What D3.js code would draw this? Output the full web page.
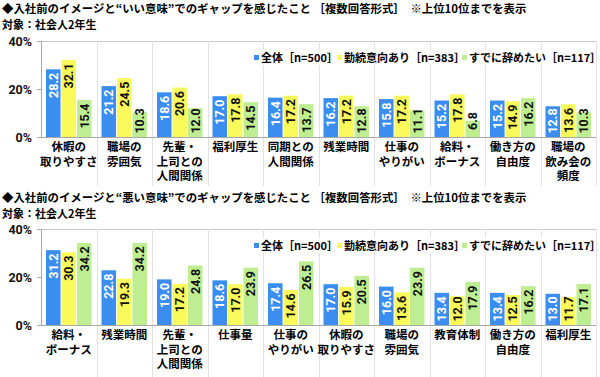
<!DOCTYPE html>
<html>
<head>
<meta charset="utf-8">
<script src="https://cdn.jsdelivr.net/npm/d3@7"></script>
<style>
  body { margin: 0; background: #fff; }
  svg { font-family: "Noto Sans CJK JP", "Noto Sans", sans-serif; }
  text { font-weight: bold; }
</style>
</head>
<body>
<svg id="chart" width="600" height="377"></svg>
<script>
const seriesNames = ["全体［n=500］", "勤続意向あり［n=383］", "すでに辞めたい［n=117］"];
const colors = ["#3b8ef0", "#fafa5c", "#bfee92"];
const yTicks = [0, 20, 40];

const title1 = "◆入社前のイメージと“いい意味”でのギャップを感じたこと ［複数回答形式］　※上位10位までを表示";
const cats1 = ["休暇の\n取りやすさ", "職場の\n雰囲気", "先輩・\n上司との\n人間関係", "福利厚生", "同期との\n人間関係",
  "残業時間", "仕事の\nやりがい", "給料・\nボーナス", "働き方の\n自由度", "職場の\n飲み会の\n頻度"];
const all1 = [28.2, 21.2, 18.6, 17.0, 16.4, 16.2, 15.8, 15.2, 15.2, 12.8];
const stay1 = [32.1, 24.5, 20.6, 17.8, 17.2, 17.2, 17.2, 17.8, 14.9, 13.6];
const quit1 = [15.4, 10.3, 12.0, 14.5, 13.7, 12.8, 11.1, 6.8, 16.2, 10.3];

const title2 = "◆入社前のイメージと“悪い意味”でのギャップを感じたこと ［複数回答形式］　※上位10位までを表示";
const cats2 = ["給料・\nボーナス", "残業時間", "先輩・\n上司との\n人間関係", "仕事量", "仕事の\nやりがい",
  "休暇の\n取りやすさ", "職場の\n雰囲気", "教育体制", "働き方の\n自由度", "福利厚生"];
const all2 = [31.2, 22.8, 19.0, 18.6, 17.4, 17.0, 16.0, 13.4, 13.4, 13.0];
const stay2 = [30.3, 19.3, 17.2, 17.0, 14.6, 15.9, 13.6, 12.0, 12.5, 11.7];
const quit2 = [34.2, 34.2, 24.8, 23.9, 26.5, 20.5, 23.9, 17.9, 16.2, 17.1];

const subtitle = "対象：社会人2年生";
const svg = d3.select("#chart");

function drawPanel(opts) {
  const { title, cats, series, top, zero, bottom, titleY } = opts;
  const g = svg.append("g");

  g.append("text").attr("x", 2).attr("y", titleY).attr("font-size", 11.4).text(title);
  g.append("text").attr("x", 2).attr("y", titleY + 16).attr("font-size", 11).text(subtitle);

  const x = d3.scaleBand().domain(d3.range(cats.length)).range([41, 596]);
  const x1 = d3.scaleBand().domain([0, 1, 2]).range([5, x.bandwidth() - 5]).paddingInner(0.06);
  const y = d3.scaleLinear().domain([0, 40]).range([zero, top]);

  // frame and vertical dividers
  g.append("line").attr("x1", 41).attr("x2", 596).attr("y1", top + 0.5).attr("y2", top + 0.5)
    .attr("stroke", "#c8c8c8");
  const edges = d3.range(cats.length + 1).map(i => i === cats.length ? 596 : x(i));
  g.selectAll(".div").data(edges.slice(1)).enter().append("line")
    .attr("x1", d => Math.round(d) + 0.5).attr("x2", d => Math.round(d) + 0.5)
    .attr("y1", top).attr("y2", bottom)
    .attr("stroke", "#e2e2e2");

  // legend background
  g.append("rect").attr("x", 250).attr("y", top + 9).attr("width", 340).attr("height", 15).attr("fill", "#fff");

  // bars
  const groups = g.selectAll(".grp").data(cats).enter().append("g")
    .attr("transform", (d, i) => `translate(${x(i)},0)`);
  groups.each(function (c, i) {
    const grp = d3.select(this);
    series.forEach((s, k) => {
      const v = s[i];
      grp.append("rect")
        .attr("x", x1(k)).attr("y", y(v))
        .attr("width", x1.bandwidth()).attr("height", zero - y(v))
        .attr("fill", colors[k]);
      const cy = Math.min(y(v) + 16, zero - 16);
      grp.append("text")
        .attr("transform", `translate(${x1(k) + x1.bandwidth() / 2 + 4.5},${cy}) rotate(-90)`)
        .attr("text-anchor", "middle")
        .attr("font-size", 12.5)
        .attr("font-family", "Roboto, 'Noto Sans', sans-serif")
        .attr("fill", k === 0 ? "#fff" : "#111")
        .text(v.toFixed(1));
    });
    const lines = c.split("\n");
    grp.selectAll(".cl").data(lines).enter().append("text")
      .attr("x", x.bandwidth() / 2)
      .attr("y", (d, j) => zero + 14 + j * 14.5)
      .attr("text-anchor", "middle")
      .attr("font-size", 11.5)
      .text(d => d);
  });

  // y axis
  const ax = g.append("g").attr("transform", "translate(41,0)")
    .call(d3.axisLeft(y).tickValues(yTicks).tickSize(4).tickPadding(5).tickFormat(d => d + "%"));
  ax.select(".domain").attr("stroke", "#a8a8a8").attr("d", `M0.5,${top}V${zero}`);
  ax.selectAll(".tick line").attr("stroke", "#a8a8a8");
  ax.selectAll(".tick text").attr("font-size", 12.5).attr("font-weight", "normal")
    .attr("font-family", "Roboto, 'Noto Sans', sans-serif").attr("fill", "#111");

  g.append("line").attr("x1", 41).attr("x2", 596).attr("y1", zero + 0.5).attr("y2", zero + 0.5)
    .attr("stroke", "#a8a8a8");

  // legend
  const legX = [254, 337, 462];
  seriesNames.forEach((n, k) => {
    g.append("rect").attr("x", legX[k]).attr("y", top + 14).attr("width", 5).attr("height", 5).attr("fill", colors[k]);
    g.append("text").attr("x", legX[k] + 7).attr("y", top + 21).attr("font-size", 11).text(n);
  });
}

drawPanel({ title: title1, cats: cats1, series: [all1, stay1, quit1], top: 41, zero: 137, bottom: 186, titleY: 13 });
drawPanel({ title: title2, cats: cats2, series: [all2, stay2, quit2], top: 229, zero: 325, bottom: 377, titleY: 202 });
</script>
</body>
</html>
